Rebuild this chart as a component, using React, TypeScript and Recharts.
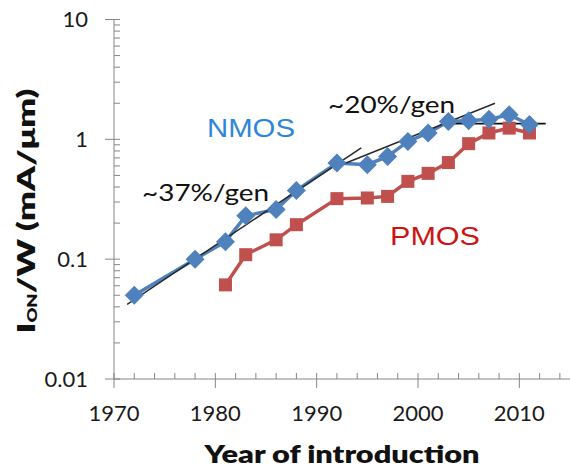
import React from "react";
import { ComposedChart, Line, XAxis, YAxis } from "recharts";

// ---- data ----
const nmosYears = [1972, 1978, 1981, 1983, 1986, 1988, 1992, 1995, 1997, 1999, 2001, 2003, 2005, 2007, 2009, 2011];
const nmosValues = [0.05, 0.1, 0.14, 0.23, 0.26, 0.375, 0.635, 0.615, 0.72, 0.96, 1.13, 1.41, 1.43, 1.47, 1.6, 1.33];
const pmosYears = [1981, 1983, 1986, 1988, 1992, 1995, 1997, 1999, 2001, 2003, 2005, 2007, 2009, 2011];
const pmosValues = [0.061, 0.109, 0.145, 0.194, 0.32, 0.324, 0.334, 0.446, 0.52, 0.64, 0.92, 1.13, 1.24, 1.13];

const trend37Years = [1971.3, 1994.4];
const trend37Values = [0.042, 0.85];
const trend20Years = [1992.4, 2007.6];
const trend20Values = [0.61, 2.0];
const flatYears = [2002.3, 2012.6];
const flatValues = [1.35, 1.35];

const xMajorTicks = [1970, 1980, 1990, 2000, 2010];
const xAllTicks = [1970, 1972, 1974, 1976, 1978, 1980, 1982, 1984, 1986, 1988, 1990, 1992, 1994, 1996, 1998, 2000, 2002, 2004, 2006, 2008, 2010, 2012, 2014];
const yMajorTicks = [0.01, 0.1, 1, 10];
const yAllTicks = [
  0.01, 0.02, 0.03, 0.04, 0.05, 0.06, 0.07, 0.08, 0.09,
  0.1, 0.2, 0.3, 0.4, 0.5, 0.6, 0.7, 0.8, 0.9,
  1, 2, 3, 4, 5, 6, 7, 8, 9, 10,
];

const toRows = (xs: number[], ys: number[]) => xs.map((x, i) => ({ x, y: ys[i] }));
const nmosData = toRows(nmosYears, nmosValues);
const pmosData = toRows(pmosYears, pmosValues);
const trend37 = toRows(trend37Years, trend37Values);
const trend20 = toRows(trend20Years, trend20Values);
const flat = toRows(flatYears, flatValues);

const AXIS = "#868686";
const NMOS_C = "#4F81BD";
const PMOS_C = "#C0504D";
const FONT = "Lato, 'Open Sans', sans-serif";
const TICK_TEXT = "#1a1a1a";

const XTick = (props: any) => {
  const { x, y, payload } = props;
  const v = payload.value;
  const major = xMajorTicks.includes(v);
  return (
    <g>
      <line x1={x} x2={x} y1={y - 6} y2={major ? y + 9 : y} stroke={AXIS} strokeWidth={1} />
      {major && (
        <text x={x} y={y + 26} dy="0.71em" textAnchor="middle" fontSize={22} fontFamily={FONT} fill={TICK_TEXT}>
          {String(v)}
        </text>
      )}
    </g>
  );
};

const YTick = (props: any) => {
  const { x, y, payload } = props;
  const v = payload.value;
  const major = yMajorTicks.includes(v);
  return (
    <g>
      <line x1={major ? x - 9 : x} x2={x + 6} y1={y} y2={y} stroke={AXIS} strokeWidth={1} />
      {major && (
        <text x={x - 26} y={y} dy="0.36em" textAnchor="end" fontSize={22} fontFamily={FONT} fill={TICK_TEXT}>
          {String(v)}
        </text>
      )}
    </g>
  );
};

const Diamond = (props: any) => {
  const { cx, cy, index } = props;
  if (cx == null || cy == null) return <g key={`d${index}`} />;
  const r = 9.5;
  return (
    <path
      key={`d${index}`}
      d={`M${cx},${cy - r}L${cx + r},${cy}L${cx},${cy + r}L${cx - r},${cy}Z`}
      fill={NMOS_C}
    />
  );
};

const Square = (props: any) => {
  const { cx, cy, index } = props;
  if (cx == null || cy == null) return <g key={`s${index}`} />;
  const h = 6.5;
  return <rect key={`s${index}`} x={cx - h} y={cy - h} width={2 * h} height={2 * h} fill={PMOS_C} />;
};

export default function App() {
  return (
    <div style={{ position: "absolute", left: 0, top: 0, width: 570, height: 472, background: "#fff" }}>
      <ComposedChart width={570} height={472} margin={{ top: 19.5, right: 0, left: 0, bottom: 33 }}>
        <XAxis
          xAxisId="main"
          type="number"
          dataKey="x"
          domain={[1970, 2015]}
          allowDataOverflow
          ticks={xAllTicks}
          interval={0}
          height={60}
          stroke={AXIS}
          tickSize={0}
          tickMargin={0}
          tickLine={false}
          tick={XTick}
        />
        <YAxis
          yAxisId="main"
          scale="log"
          domain={[0.01, 10]}
          allowDataOverflow
          ticks={yAllTicks}
          interval={0}
          width={114}
          stroke={AXIS}
          tickSize={0}
          tickMargin={0}
          tickLine={false}
          tick={YTick}
        />
        <Line
          xAxisId="main"
          yAxisId="main"
          data={pmosData}
          dataKey="y"
          stroke={PMOS_C}
          strokeWidth={3.5}
          dot={Square}
          activeDot={false}
          isAnimationActive={false}
        />
        <Line
          xAxisId="main"
          yAxisId="main"
          data={nmosData}
          dataKey="y"
          stroke={NMOS_C}
          strokeWidth={3.5}
          dot={Diamond}
          activeDot={false}
          isAnimationActive={false}
        />
        <Line
          xAxisId="main"
          yAxisId="main"
          data={trend37}
          dataKey="y"
          stroke="#2a2a2a"
          strokeWidth={1.5}
          dot={false}
          activeDot={false}
          isAnimationActive={false}
        />
        <Line
          xAxisId="main"
          yAxisId="main"
          data={trend20}
          dataKey="y"
          stroke="#2a2a2a"
          strokeWidth={1.5}
          dot={false}
          activeDot={false}
          isAnimationActive={false}
        />
        <Line
          xAxisId="main"
          yAxisId="main"
          data={flat}
          dataKey="y"
          stroke="#111"
          strokeWidth={1.8}
          dot={false}
          activeDot={false}
          isAnimationActive={false}
        />
      </ComposedChart>
      <svg
        width={570}
        height={472}
        style={{ position: "absolute", left: 0, top: 0, pointerEvents: "none" }}
      >
        <text
          x={207}
          y={137}
          fontSize={26}
          fontFamily="'Liberation Sans', Arial, sans-serif"
          fill="#2F86D8"
          textLength={88}
          lengthAdjust="spacingAndGlyphs"
        >
          NMOS
        </text>
        <text
          x={390}
          y={245}
          fontSize={26}
          fontFamily="'Liberation Sans', Arial, sans-serif"
          fill="#CC1414"
          textLength={90}
          lengthAdjust="spacingAndGlyphs"
        >
          PMOS
        </text>
        <text x={142} y={201} fontSize={23} fontFamily={FONT} fill="#111" textLength={127} lengthAdjust="spacingAndGlyphs">
          ~37%/gen
        </text>
        <text x={328} y={113} fontSize={23} fontFamily={FONT} fill="#111" textLength={127} lengthAdjust="spacingAndGlyphs">
          ~20%/gen
        </text>
        <text
          x={342}
          y={463}
          textAnchor="middle"
          fontSize={24}
          fontWeight={800}
          fontFamily={FONT}
          fill="#111"
          textLength={275}
          lengthAdjust="spacingAndGlyphs"
        >
          Year of introduction
        </text>
        <text
          transform="translate(35, 211) rotate(-90)"
          x={0}
          y={0}
          textAnchor="middle"
          fontSize={25}
          fontWeight={800}
          fontFamily={FONT}
          fill="#111"
          textLength={245}
          lengthAdjust="spacingAndGlyphs"
        >
          <tspan>I</tspan>
          <tspan fontSize={13} dy={2}>ON</tspan>
          <tspan dy={-2}>/W (mA/μm)</tspan>
        </text>
      </svg>
    </div>
  );
}
